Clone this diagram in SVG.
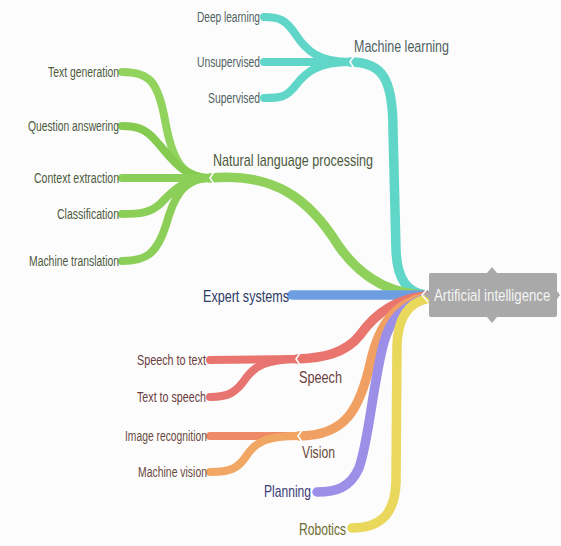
<svg xmlns="http://www.w3.org/2000/svg" width="561" height="546" viewBox="0 0 561 546">
<style>
  .b { fill: none; stroke-linecap: round; stroke-linejoin: round; }
  .m { stroke-width: 9.5; }
  .c { stroke-width: 8; }
  text { font-family: "Liberation Sans", Arial, sans-serif; }
  .leaf { font-size: 14px; text-anchor: end; }
  .cat { font-size: 17px; }
  .notch { fill: none; stroke: #fcfcfc; stroke-width: 1.6; }
</style>
<rect width="561" height="546" fill="#fcfcfc"/>
<g id="connectors">
  <!-- main branches -->
  <path class="b m" stroke="#60d6c9" d="M 350 62 C 382 62, 393 78, 393 130 L 396 250 C 397 280, 408 293, 426 295"/>
  <path class="b m" stroke="#8fd15a" d="M 210 178 C 275 172, 310 200, 338 245 C 362 280, 392 294, 426 295"/>
  <path class="b m" stroke="#6e9ee2" d="M 292 295 L 426 295"/>
  <path class="b m" stroke="#e9756e" d="M 426 296 C 392 299, 372 318, 360 335 C 345 354, 322 358, 297 359"/>
  <path class="b m" stroke="#f1a064" d="M 426 297 C 396 303, 380 322, 371 360 C 360 410, 345 436, 299 436"/>
  <path class="b m" stroke="#9b8fe8" d="M 426 298 C 402 307, 390 320, 384 342 C 373 382, 369 440, 359 468 C 350 488, 336 492, 317 492"/>
  <path class="b m" stroke="#e9d85c" d="M 426 299 C 406 304, 398 320, 397 345 L 396 482 C 395 515, 380 528, 352 528"/>
  <!-- ML children -->
  <path class="b c" stroke="#60d6c9" d="M 350 62 C 318 62, 306 50, 296 35 C 286 20, 280 17, 264 17"/>
  <path class="b c" stroke="#60d6c9" d="M 350 62 L 264 62"/>
  <path class="b c" stroke="#60d6c9" d="M 350 62 C 318 62, 306 72, 296 85 C 286 98, 280 98, 264 98"/>
  <!-- NLP children -->
  <path class="b c" stroke="#92d35e" d="M 210 178 C 182 178, 172 160, 165 120 C 158 82, 150 72, 122 72"/>
  <path class="b c" stroke="#84cb50" d="M 210 178 C 182 178, 170 156, 156 141 C 146 129, 137 126, 122 126"/>
  <path class="b c" stroke="#8ccf58" d="M 210 178 L 122 178"/>
  <path class="b c" stroke="#8ccf58" d="M 210 178 C 182 178, 170 194, 160 204 C 150 213, 140 214, 122 214"/>
  <path class="b c" stroke="#8ccf58" d="M 210 178 C 182 178, 173 200, 166 225 C 157 254, 146 261, 122 261"/>
  <!-- Speech children -->
  <path class="b c" stroke="#e9756e" d="M 297 359 L 210 360"/>
  <path class="b c" stroke="#e77470" d="M 297 359 C 266 360, 256 365, 246 378 C 236 393, 228 397, 210 397"/>
  <!-- Vision children -->
  <path class="b c" stroke="#ee8a66" d="M 299 436 L 210 436"/>
  <path class="b c" stroke="#f2a664" d="M 299 436 C 266 436, 256 442, 247 455 C 238 469, 230 472, 210 472"/>
  <!-- junction notches -->
  <polyline class="notch" points="354,56 350,62 354,68"/>
  <polyline class="notch" points="214,172 210,178 214,184"/>
  <polyline class="notch" points="300,353 296,359 300,365"/>
  <polyline class="notch" points="302,430 298,436 302,442"/>
</g>
<g id="root">
  <path d="M 431 273 L 487 273 L 492 267 L 497 273 L 555 273 Q 557 273 557 275 L 557 291 L 560 295 L 557 299 L 557 315 Q 557 317 555 317 L 497 317 L 492 323 L 487 317 L 431 317 Q 429 317 429 315 L 429 299 L 424 295 L 429 291 L 429 275 Q 429 273 431 273 Z" fill="#a9a9a9"/>
  <polyline class="notch" points="428,288 422,295 428,302"/>
  <text transform="translate(434 301) scale(0.78 1)" x="0" y="0" font-size="17" fill="#f4f4f4">Artificial intelligence</text>
</g>
<g id="ml">
  <text class="cat" x="354" y="52" fill="#4f6262" textLength="95" lengthAdjust="spacingAndGlyphs">Machine learning</text>
</g>
<g id="ml-deep"><text class="leaf" x="260" y="22" fill="#4f6262" textLength="63" lengthAdjust="spacingAndGlyphs">Deep learning</text></g>
<g id="ml-unsup"><text class="leaf" x="260" y="67" fill="#4f6262" textLength="63" lengthAdjust="spacingAndGlyphs">Unsupervised</text></g>
<g id="ml-sup"><text class="leaf" x="260" y="103" fill="#4f6262" textLength="52" lengthAdjust="spacingAndGlyphs">Supervised</text></g>
<g id="nlp">
  <text class="cat" x="213" y="166" fill="#4c5a3c" textLength="160" lengthAdjust="spacingAndGlyphs">Natural language processing</text>
</g>
<g id="nlp-textgen"><text class="leaf" x="119" y="77" fill="#4c5a3c" textLength="71" lengthAdjust="spacingAndGlyphs">Text generation</text></g>
<g id="nlp-qa"><text class="leaf" x="119" y="131" fill="#4c5a3c" textLength="91" lengthAdjust="spacingAndGlyphs">Question answering</text></g>
<g id="nlp-context"><text class="leaf" x="119" y="183" fill="#4c5a3c" textLength="85" lengthAdjust="spacingAndGlyphs">Context extraction</text></g>
<g id="nlp-class"><text class="leaf" x="119" y="219" fill="#4c5a3c" textLength="62" lengthAdjust="spacingAndGlyphs">Classification</text></g>
<g id="nlp-mt"><text class="leaf" x="119" y="266" fill="#4c5a3c" textLength="90" lengthAdjust="spacingAndGlyphs">Machine translation</text></g>
<g id="expert">
  <text class="cat" x="203" y="302" fill="#2d3a66" textLength="86" lengthAdjust="spacingAndGlyphs">Expert systems</text>
</g>
<g id="speech">
  <text class="cat" x="299" y="383" fill="#6a3e3e" textLength="43" lengthAdjust="spacingAndGlyphs">Speech</text>
</g>
<g id="speech-stt"><text class="leaf" x="206" y="365" fill="#6a3e3e" textLength="69" lengthAdjust="spacingAndGlyphs">Speech to text</text></g>
<g id="speech-tts"><text class="leaf" x="206" y="402" fill="#6a3e3e" textLength="69" lengthAdjust="spacingAndGlyphs">Text to speech</text></g>
<g id="vision">
  <text class="cat" x="302" y="458" fill="#6a4a3c" textLength="33" lengthAdjust="spacingAndGlyphs">Vision</text>
</g>
<g id="vision-ir"><text class="leaf" x="207" y="441" fill="#6a4a3c" textLength="82" lengthAdjust="spacingAndGlyphs">Image recognition</text></g>
<g id="vision-mv"><text class="leaf" x="207" y="477" fill="#6a4a3c" textLength="69" lengthAdjust="spacingAndGlyphs">Machine vision</text></g>
<g id="planning">
  <text class="cat" x="264" y="497" fill="#3b3b78" textLength="47" lengthAdjust="spacingAndGlyphs">Planning</text>
</g>
<g id="robotics">
  <text class="cat" x="299" y="535" fill="#6b6a30" textLength="47" lengthAdjust="spacingAndGlyphs">Robotics</text>
</g>
</svg>
